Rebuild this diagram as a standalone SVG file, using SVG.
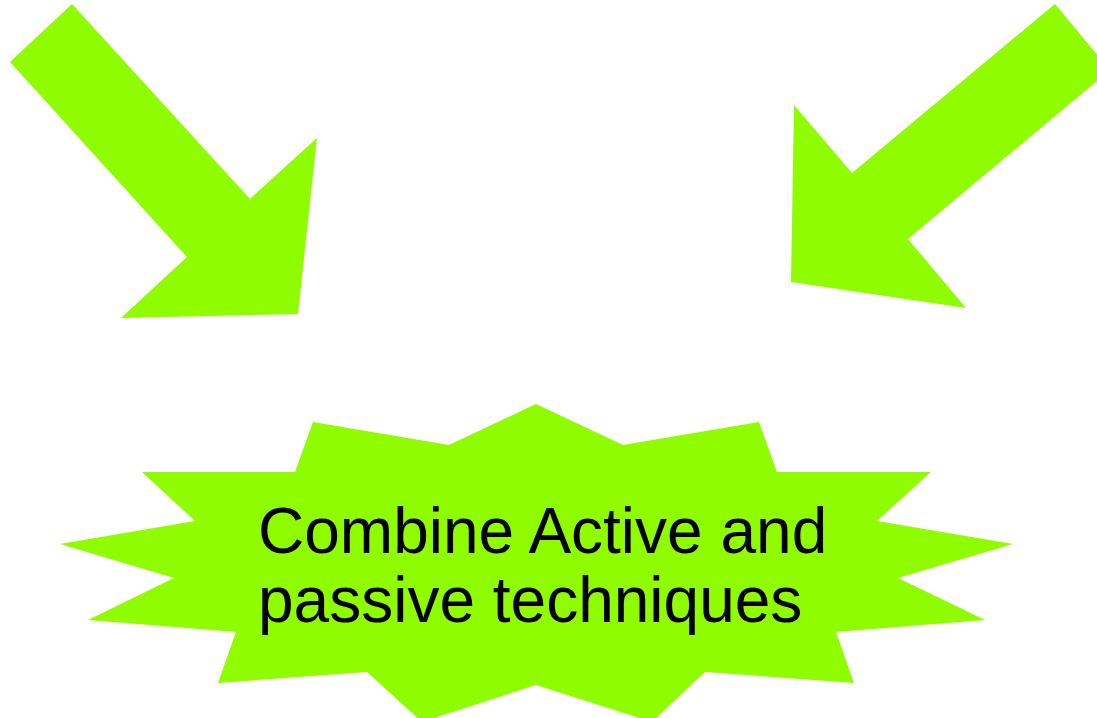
<svg xmlns="http://www.w3.org/2000/svg" width="1097" height="718" viewBox="0 0 1097 718">
<style>
.shape{fill:#8FFC00;stroke:none}
.label{font-family:"Liberation Sans",Arial,sans-serif;font-size:64px;fill:#000}
</style>
<rect width="1097" height="718" fill="#fff"/>
<g id="connectors">
<polygon id="arrow-left" class="shape" points="72,4 250,199 317,138 298,314 121,318 187,257 10,62"/>
<polygon id="arrow-right" class="shape" points="1055,4 1110,70 908,239 966,308 791,282 794,105 852,173"/>
</g>
<g id="node-burst">
<polygon class="shape" points="536,404 623,445 759,422 777,472 931,472 877,521 1013,544 898,578 985,620 836,632 854,683 705,672 652,722 536,685 422,722 367,672 218,683 236,632 88,620 174,578 60,544 195,521 142,472 295,472 313,422 449,445"/>
<text class="label" x="258" y="553">Combine Active and</text>
<text class="label" x="258" y="622">passive techniques</text>
</g>
</svg>
